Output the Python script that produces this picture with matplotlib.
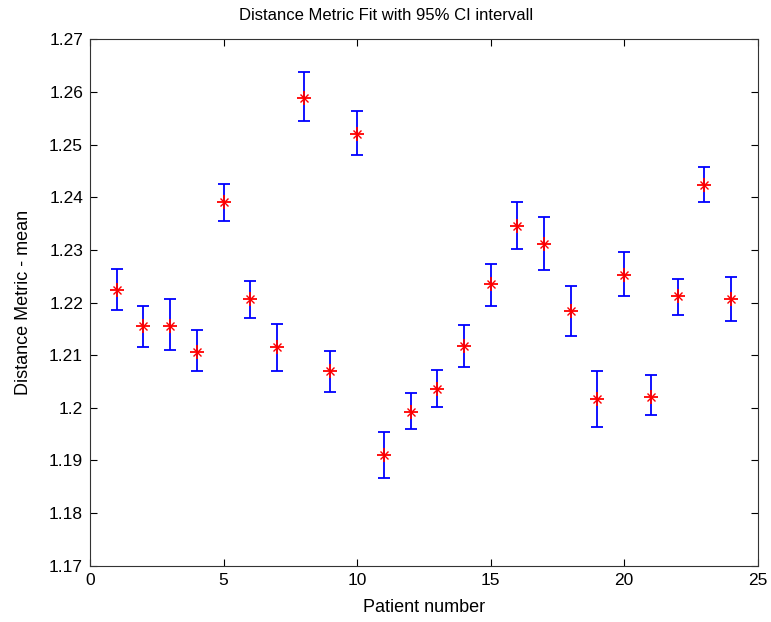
import matplotlib.pyplot as plt
import numpy as np

plt.rcParams['font.family'] = ['Liberation Sans', 'DejaVu Sans']

patients = np.arange(1, 25)
means = [1.2223, 1.2156, 1.2156, 1.2106, 1.2390, 1.2206, 1.2115, 1.2588,
         1.2069, 1.2521, 1.1910, 1.1992, 1.2036, 1.2118, 1.2235, 1.2346,
         1.2312, 1.2183, 1.2016, 1.2253, 1.2021, 1.2212, 1.2423, 1.2206]
upper = [1.2264, 1.2194, 1.2206, 1.2147, 1.2425, 1.2241, 1.2159, 1.2638,
         1.2107, 1.2563, 1.1954, 1.2028, 1.2071, 1.2157, 1.2273, 1.2390,
         1.2363, 1.2232, 1.2069, 1.2296, 1.2062, 1.2245, 1.2458, 1.2249]
lower = [1.2186, 1.2115, 1.2109, 1.2069, 1.2355, 1.2171, 1.2069, 1.2545,
         1.2030, 1.2480, 1.1867, 1.1960, 1.2001, 1.2077, 1.2194, 1.2302,
         1.2262, 1.2136, 1.1963, 1.2212, 1.1986, 1.2177, 1.2390, 1.2165]

means = np.array(means)
yerr = [means - np.array(lower), np.array(upper) - means]

fig = plt.figure(figsize=(7.71, 6.22), dpi=100)
ax = fig.add_axes([0.1167, 0.0905, 0.8661, 0.8463])

ax.errorbar(patients, means, yerr=yerr, fmt='none', ecolor='blue',
            elinewidth=1.3, capsize=4.5, capthick=1.3)
# matlab style asterisk: a plus with an x over it
ax.plot(patients, means, '+', color='red', markersize=10, markeredgewidth=1.3)
ax.plot(patients, means, 'x', color='red', markersize=6, markeredgewidth=1.0)

ax.set_xlim(0, 25)
ax.set_ylim(1.17, 1.27)
ax.set_xticks(np.arange(0, 26, 5))
ax.set_yticks(np.round(np.arange(1.17, 1.2701, 0.01), 2))
ax.set_yticklabels(['1.17', '1.18', '1.19', '1.2', '1.21', '1.22', '1.23',
                    '1.24', '1.25', '1.26', '1.27'])
ax.tick_params(direction='in', top=True, right=True, labelsize=12.5, length=5, pad=5)
for s in ax.spines.values():
    s.set_color('#333333')

ax.set_title('Distance Metric Fit with 95% CI intervall', fontsize=12, pad=14, x=0.443)
ax.set_xlabel('Patient number', fontsize=13, labelpad=8)
ax.set_ylabel('Distance Metric - mean', fontsize=13, labelpad=12)

fig.savefig('out.png', dpi=100)
